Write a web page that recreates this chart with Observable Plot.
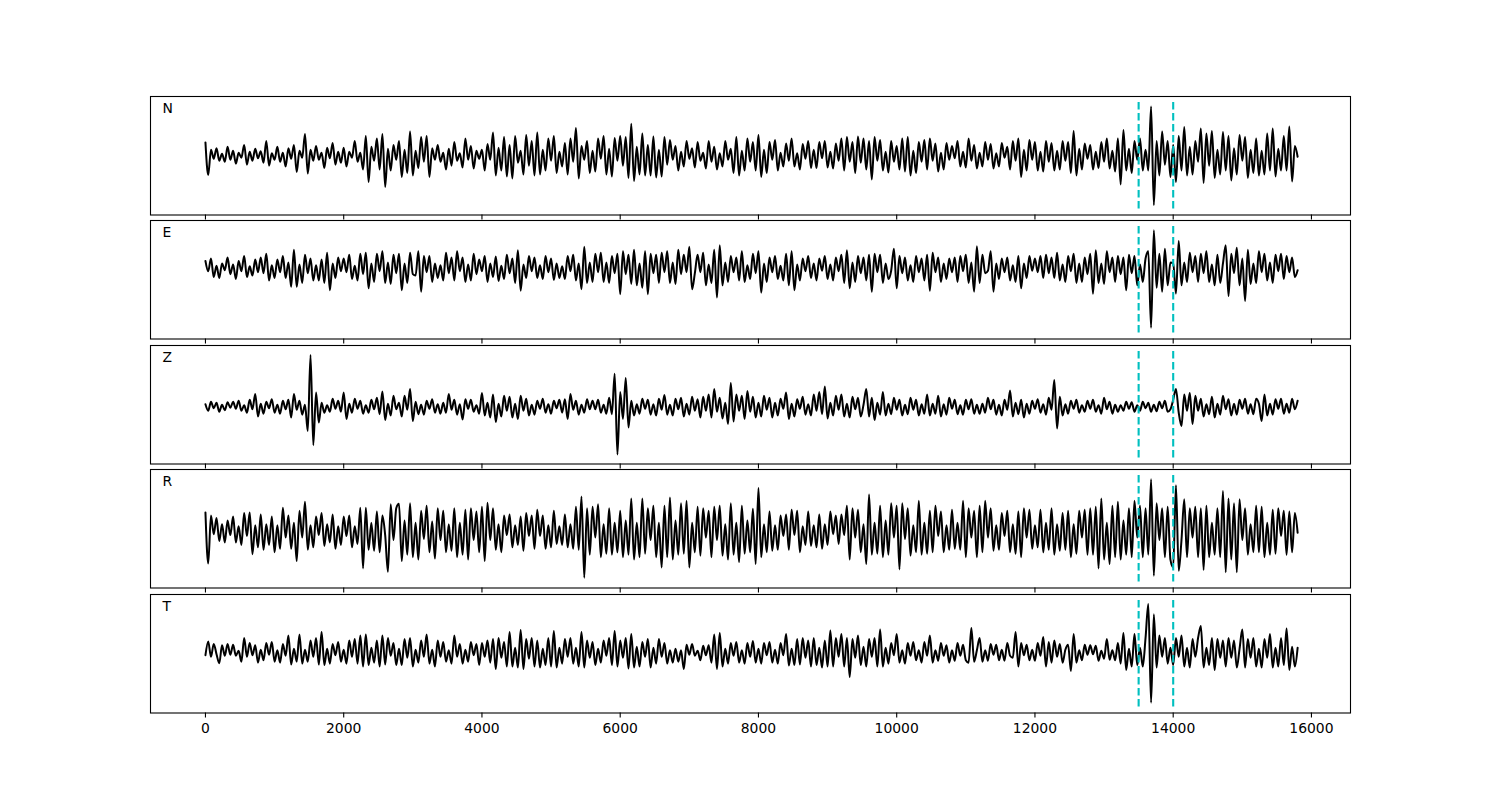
<!DOCTYPE html>
<html><head><meta charset="utf-8">
<script src="https://cdn.jsdelivr.net/npm/d3@7"></script>
<script src="https://cdn.jsdelivr.net/npm/@observablehq/plot@0.6"></script>
<style>
body{margin:0;background:#fff;}
#fig{position:relative;width:1500px;height:800px;background:#fff;}
#fig svg{position:absolute;left:0;}
</style>
</head><body><div id="fig"></div>
<script>
const channels = ["N", "E", "Z", "R", "T"];
const sampleStep = 40;
const xTicks = [0, 2000, 4000, 6000, 8000, 10000, 12000, 14000, 16000];
const picks = [13500, 14000];

const traceN = [
27,-39,12,-6,15,-10,4,-12,18,-8,
10,-16,6,-4,22,-18,8,-10,14,-5,
9,-14,30,-20,5,-8,18,-12,6,-22,
15,-6,22,-33,10,-4,44,-36,12,-10,
20,-8,6,-25,16,-5,26,-18,8,-14,
16,-22,8,-4,30,-12,6,-28,40,-53,
18,-10,35,-28,44,-63,14,-30,22,-8,
30,-43,12,-35,49,-40,10,-25,38,-12,
40,-43,15,-8,22,-12,6,-28,14,-20,
28,-10,5,-24,35,-8,20,-26,10,-6,
12,-30,24,-8,47,-40,16,-30,38,-42,
22,-46,40,-14,10,-38,42,-20,30,-40,
47,-38,12,-30,35,-10,40,-35,8,-22,
26,-38,35,-12,56,-46,20,-8,30,-35,
10,-32,35,-6,40,-38,14,-42,36,-10,
40,-20,38,-45,65,-51,18,-38,45,-40,
22,-40,39,-44,12,-42,38,-18,32,-8,
20,-30,8,-22,30,-6,15,-24,28,-10,
6,-26,30,-12,18,-28,5,-22,30,-8,
14,-35,38,-40,10,-30,35,-12,28,-30,
42,-43,12,-35,28,-8,32,-30,6,-22,
25,-10,35,-22,5,-28,24,-6,30,-25,
12,-25,28,-5,30,-24,8,-26,25,-10,
35,-30,38,-12,28,-35,39,-14,35,-28,
30,-48,38,-10,32,-30,8,-34,30,-12,
20,-28,35,-32,38,-40,10,-35,28,-12,
32,-28,35,-10,25,-32,6,-28,26,-8,
20,-5,30,-22,8,-24,35,-10,22,-26,
6,-22,28,-8,24,-26,5,-22,26,-4,
18,-28,30,-10,35,-43,12,-30,32,-8,
28,-30,8,-32,30,-12,26,-30,10,-28,
30,-10,28,-35,50,-40,14,-28,25,-6,
22,-28,8,-25,28,-12,35,-26,10,-32,
35,-58,52,-30,14,-35,30,-8,35,-30,
12,-30,100,-100,30,-40,49,-18,30,-43,
22,-53,40,-30,58,-40,18,-38,30,-12,
55,-55,45,-20,50,-45,12,-38,48,-30,
40,-50,15,-38,42,-10,38,-45,12,-35,
35,-40,10,-38,45,-30,55,-42,14,-30,
40,-30,59,-52,20,-2
];

const traceE = [
15,-6,20,-18,5,-20,10,-4,22,-12,
8,-22,15,-6,25,-18,4,-15,18,-8,
22,-10,30,-25,6,-20,18,-8,25,-20,
12,-38,38,-38,8,-30,28,-10,20,-25,
6,-25,18,-30,32,-45,10,-20,22,-6,
20,-8,28,-22,5,-25,30,-12,32,-41,
10,-28,30,-6,35,-30,12,-32,28,-10,
30,-45,10,-30,32,-12,-15,35,-48,25,
-8,25,-28,10,-20,6,-25,32,-10,22,
-25,35,-6,22,-28,8,-25,30,-12,18,
-6,25,-28,10,-18,24,-26,5,-22,28,
-10,20,-30,37,-46,8,-20,25,-6,22,
-20,6,-22,25,-8,20,-24,10,-20,4,
-22,25,-6,28,-25,10,-43,44,-30,12,
-28,30,-8,32,-28,12,-30,25,-10,30,
-53,35,-12,28,-32,38,-35,10,-40,35,
-53,30,-10,28,-30,32,-8,35,-30,12,
-32,38,-12,28,-8,44,-43,-10,28,-8,
32,-35,8,-30,38,-60,47,-35,12,-28,
25,-8,22,-25,35,-28,6,-22,30,-10,
35,-50,10,-28,22,-8,25,-22,5,-25,
30,-35,35,-45,8,-25,20,-6,25,-20,
10,-25,20,-5,25,-22,8,-25,22,-6,
28,-30,37,-41,12,-28,25,-10,22,-25,
28,-48,30,-8,28,-30,10,-22,-5,40,
-41,25,-10,22,-25,6,-28,25,-8,20,
-25,28,-46,32,-8,22,-28,10,-22,20,
-8,22,-28,25,-6,28,-30,12,-48,45,
-30,28,-10,-5,35,-48,10,-22,20,-8,
22,-25,6,-28,25,-41,10,-20,25,-5,
20,-8,25,-20,28,-10,22,-20,32,-25,
8,-28,25,-6,30,-30,10,-28,22,-12,
30,-52,37,-30,10,-32,35,-8,22,-28,
25,-12,22,-45,28,-10,25,-35,8,-28,
20,35,-122,78,-40,30,-48,40,-35,12,
10,-52,56,-35,12,-28,32,-8,25,-28,
30,-10,35,-28,8,-35,28,-30,10,47,
-57,30,-10,42,-35,20,-67,38,-32,10,
-30,35,-8,30,-25,12,-30,28,-6,30,
-22,25,-8,22,-18,-4
];

const traceZ = [
5,-8,10,-3,8,-10,4,-7,9,-2,
10,-4,12,-8,3,-12,14,-5,26,-20,
6,-14,10,-3,15,-12,4,-14,12,-5,
14,-22,26,-6,12,-16,4,-49,105,-78,
29,-32,8,-12,3,-10,16,-4,12,-10,
29,-25,6,-12,16,-4,12,-14,3,-12,
14,-5,18,-15,31,-27,6,-18,22,-5,
8,-20,22,-6,36,-29,10,-15,4,-16,
12,-4,15,-12,5,-14,8,-12,26,-6,
14,-16,5,-26,15,-4,14,-10,3,-14,
28,-18,8,-22,25,-31,6,-20,22,-8,
20,-22,6,-25,22,-8,16,-18,4,-16,
12,-4,16,-12,5,-14,12,-3,14,-12,
15,-25,26,-6,12,-16,4,-12,15,-5,
12,-5,14,-12,4,-14,18,-15,67,-97,
30,-25,58,-42,12,-18,5,-14,16,-4,
14,-16,5,-18,16,-6,24,-16,4,-18,
16,-5,18,-20,6,-16,20,-8,15,-22,
20,-8,25,-22,36,-10,18,-24,8,-35,
48,-30,25,-8,22,-25,32,-10,20,-22,
8,-20,22,-6,18,-22,8,-18,16,-4,
29,-25,6,-20,15,-4,20,-16,5,-18,
25,-8,30,-15,41,-24,8,-18,22,-6,
25,-20,6,-22,20,-5,18,-20,4,36,
-20,18,-27,8,-16,30,-18,6,-15,18,
-6,14,-18,4,-15,18,-6,14,-18,5,
-14,25,-18,6,-14,22,-20,5,-16,18,
-4,14,-15,3,-16,14,-5,15,-14,4,
-14,6,-12,18,-5,14,-16,4,-18,14,
-6,33,-20,8,-15,14,-22,6,-14,12,
-4,15,-12,5,-16,18,-6,54,-44,20,
-18,5,-14,12,-4,14,-12,3,-10,12,
-4,14,-10,3,-14,18,-5,10,-14,4,
-10,3,-8,10,-4,9,-10,3,-8,10,
-3,8,-10,4,-9,10,-3,12,-10,-5,
14,36,-12,-39,25,-8,28,-35,22,-8,
16,-20,5,-15,20,-22,6,-16,22,-5,
15,-18,6,-16,14,-4,16,-14,5,-15,
16,6,-29,25,-18,6,-16,15,-4,16,
-14,6,-12,16,-5,12
];

const traceR = [
36,-68,30,-8,25,-22,12,-25,20,-10,
28,-25,8,-30,35,-12,36,-49,10,-35,
32,-40,12,-30,28,-45,10,-38,46,-15,
30,-38,15,-63,40,-15,58,-40,10,-35,
28,-10,35,-32,12,-25,32,-38,8,-30,
28,-12,30,-35,8,-28,46,-78,46,-40,
15,-42,38,-45,30,-10,-85,53,-20,45,
54,-63,20,-50,55,-55,15,-60,40,-18,
50,-45,18,-58,45,-20,40,-45,12,-42,
45,-55,15,-50,42,-60,45,-20,38,-45,
48,-63,56,-20,45,-40,12,-45,30,-10,
32,-35,10,-30,28,-42,35,-12,30,-38,
42,-12,30,-38,10,-35,40,-28,8,-30,
32,-35,12,-38,48,-40,69,-97,45,-50,
48,-15,53,-55,12,-48,45,-50,15,-45,
40,-55,20,-50,65,-60,15,-55,65,-48,
45,-20,50,-55,15,-76,50,-55,67,-60,
20,-50,55,-48,60,-76,15,-45,48,-52,
45,-15,40,-55,48,-20,50,-52,12,-60,
55,-50,15,-65,50,-48,20,-45,44,-69,
86,-55,12,-45,38,-42,10,-40,30,-12,
32,-40,42,-10,40,-45,8,-30,38,-32,
10,-35,32,-38,12,-30,38,-8,30,-28,
32,-10,50,-60,45,-15,42,-45,12,-69,
73,-50,15,-48,50,-55,20,-50,55,-15,
50,-80,55,-18,45,-52,10,-45,60,-50,
15,-48,40,-45,50,-12,38,-45,10,-40,
42,-38,15,-40,60,-55,45,-15,40,-55,
50,-45,60,-15,45,-42,10,-40,35,-12,
40,-45,12,-48,38,-55,45,-15,42,-38,
10,-35,42,-45,15,-40,45,-50,12,-42,
35,-40,40,-55,12,-48,40,-15,42,-50,
45,-50,48,-78,65,-60,15,-69,50,-55,
58,-60,20,-50,45,-55,60,-15,50,-55,
45,-50,104,-93,55,-20,45,-55,48,-60,
-76,92,-83,-20,63,-55,45,-15,48,-55,
45,-81,50,-55,15,-50,45,-55,80,-86,
65,-60,55,-86,63,-20,45,-50,12,-45,
50,-45,48,-55,15,-50,42,-48,45,-12,
40,-50,38,-45,35,-5
];

const traceT = [
-5,23,-8,18,-3,-21,15,-6,18,-4,
16,-6,4,-18,30,-8,20,-5,15,-20,
6,-15,20,-4,22,-18,5,-20,18,-6,
35,-24,8,-18,37,-22,6,-18,25,-8,
30,-24,42,-25,8,-22,18,-5,22,-18,
6,-22,25,-8,28,-22,35,-28,37,-25,
10,-20,25,-28,35,-24,30,-6,20,-25,
8,-25,28,-10,30,-28,6,-20,25,-8,
37,-22,6,-28,25,-8,22,-18,5,-22,
35,-8,18,-22,6,-18,22,-5,18,-25,
20,-8,25,-20,28,-33,30,-10,22,-28,
42,-28,10,-30,46,-33,28,-12,30,-28,
25,-30,8,-25,30,-28,44,-30,10,-22,
28,-8,30,-22,10,-28,42,-30,25,-10,
22,-25,8,-20,25,-6,30,-25,44,-28,
25,-10,30,-32,38,-30,12,-28,22,-8,
28,-30,10,-22,28,-8,20,-22,5,-20,
8,-18,5,-33,16,-4,18,-6,4,-15,
14,-5,15,-20,37,-33,40,-28,8,-22,
20,-6,22,-20,5,-22,20,-8,24,-20,
8,-22,20,-5,22,-20,6,-22,20,-5,
38,-26,8,-25,28,-24,30,-10,25,-28,
30,-25,10,-30,25,-28,45,-28,30,-8,
38,-28,30,-49,28,-10,35,-25,12,-28,
28,-8,30,-28,47,-28,10,-22,20,-5,
38,-20,5,-22,20,-6,22,-15,5,-20,
22,-6,35,-20,5,-16,20,-6,15,-20,
5,-16,20,-6,16,-15,-20,50,-18,5,
30,-18,5,-16,18,-4,16,-15,6,-16,
20,-6,-10,42,-28,20,-5,16,-15,6,
-16,20,-6,32,-28,22,-20,25,-8,18,
-20,6,16,-37,38,-20,5,-15,16,-4,
15,-3,14,-16,4,-12,28,-14,5,-15,
20,-22,40,-35,8,-28,38,-25,10,-28,
30,99,-101,78,-30,35,-8,30,-22,10,
-25,30,-8,35,-28,10,-30,28,-8,30,
54,-30,10,-25,30,-35,28,-10,25,-28,
30,-10,25,-30,8,47,-30,28,-10,30,
-28,8,-30,28,-10,38,-30,10,-28,30,
-25,49,-35,12,-28,10
];

const traces = { N: traceN, E: traceE, Z: traceZ, R: traceR, T: traceT };
const yDomains = { N: [-120, 120], E: [-145, 98], Z: [-116, 124], R: [-118, 124], T: [-122, 118] };

const fig = document.getElementById("fig");
const panelTop = 96, panelH = 118.5, panelStep = 124.4;

channels.forEach((ch, i) => {
  const last = i === channels.length - 1;
  const rows = traces[ch].map((v, j) => ({ t: j * sampleStep, v }));
  const [lo, hi] = yDomains[ch];
  const span = hi - lo;
  const mt = 2, mb = last ? 45 : 8;
  const chart = Plot.plot({
    width: 1500,
    height: panelH + mt + mb,
    marginLeft: 150, marginRight: 150, marginTop: mt, marginBottom: mb,
    x: { domain: [-795, 16565] },
    y: { domain: [lo, hi], axis: null },
    style: { fontFamily: "DejaVu Sans, sans-serif", fontSize: "13.9px", background: "transparent", color: "black", overflow: "visible" },
    marks: [
      Plot.line(rows, { x: "t", y: "v", stroke: "black", strokeWidth: 2, curve: "monotone-x" }),
      Plot.ruleX(picks, { x: d => d, y1: lo + 0.05 * span, y2: lo + 0.95 * span, stroke: "#00bfbf", strokeWidth: 2.1, strokeDasharray: "7.7,3.3" }),
      Plot.frame({ stroke: "black", strokeWidth: 1.1 }),
      Plot.axisX({ ticks: xTicks, tickSize: 5, tickPadding: 5, strokeWidth: 1.1, tickFormat: last ? (d => String(d)) : (() => ""), fontSize: 13.9, label: null }),
      Plot.text([ch], { frameAnchor: "top-left", dx: 12, dy: 12, text: d => d, textAnchor: "start", lineAnchor: "middle", fill: "black", fontSize: 13.9 })
    ]
  });
  chart.style.top = (panelTop + i * panelStep - mt) + "px";
  fig.appendChild(chart);
});
</script>
</body></html>
